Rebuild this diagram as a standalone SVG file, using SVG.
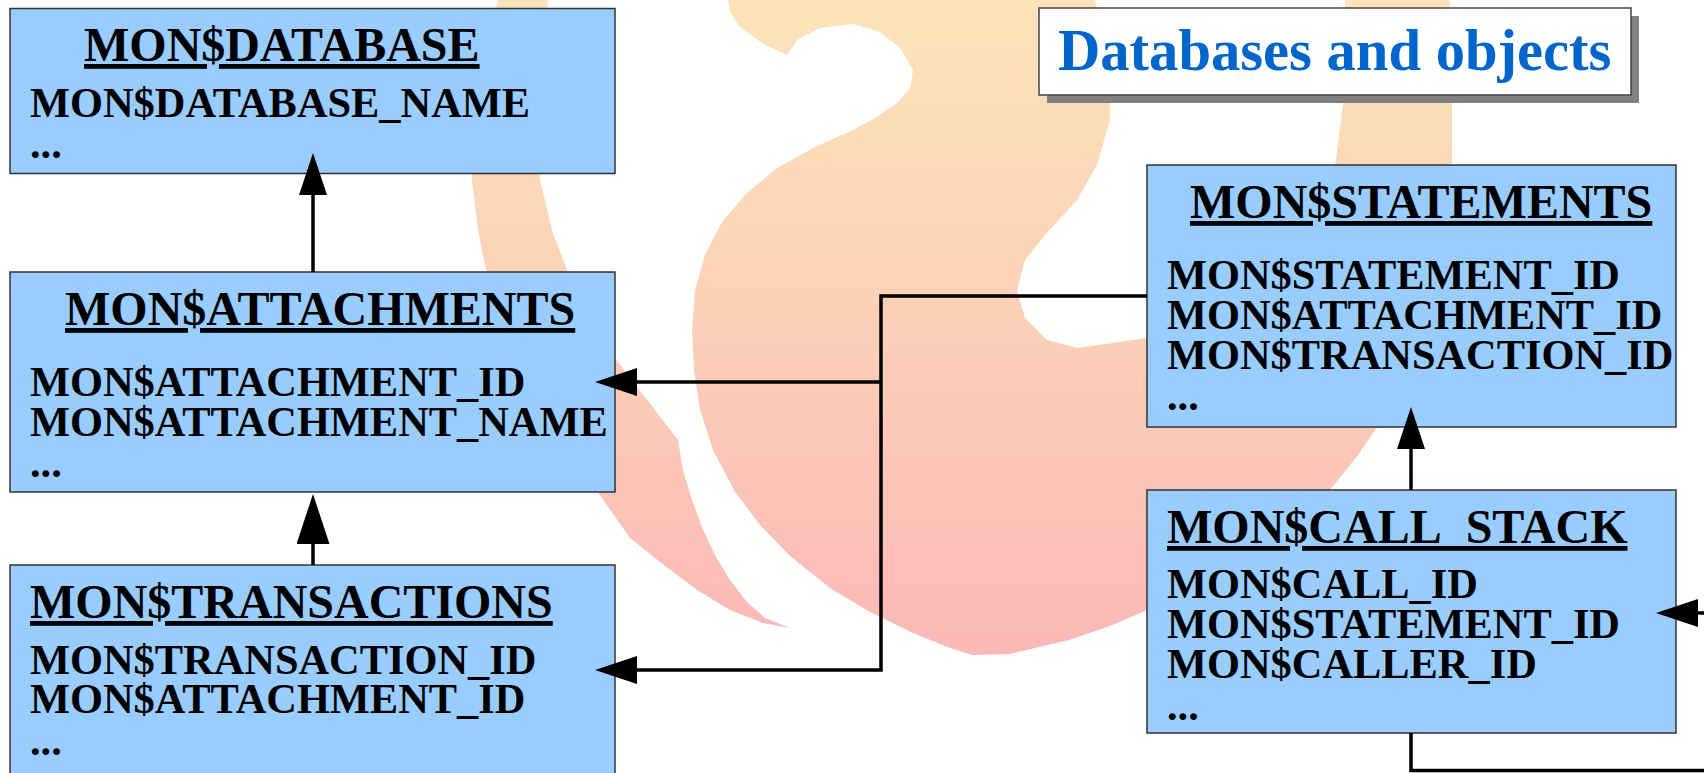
<svg xmlns="http://www.w3.org/2000/svg" width="1704" height="773" viewBox="0 0 1704 773">
<defs>
<linearGradient id="flame" x1="0" y1="0" x2="0" y2="660" gradientUnits="userSpaceOnUse">
<stop offset="0" stop-color="#FDE4BA"/>
<stop offset="0.5" stop-color="#FBCFB7"/>
<stop offset="1" stop-color="#FBB8B8"/>
</linearGradient>
<marker id="ah" markerUnits="userSpaceOnUse" markerWidth="42" markerHeight="28" refX="0" refY="14" orient="auto" viewBox="0 0 42 28"><path d="M0,0 L42,14 L0,28 Z" fill="#000"/></marker>
<marker id="ahL" markerUnits="userSpaceOnUse" markerWidth="50" markerHeight="33" refX="0" refY="16.5" orient="auto" viewBox="0 0 50 33"><path d="M0,0 L50,16.5 L0,33 Z" fill="#000"/></marker>
</defs>
<style>
.box{fill:#99CCFF;stroke:#333333;stroke-width:1.5}
.t{font-family:"Liberation Serif","Times New Roman",serif;font-weight:bold;fill:#000000}
.h{font-size:48px;text-decoration:underline}
.f{font-size:42.4px}
.conn{fill:none;stroke:#000000;stroke-width:3.5}
.wm{fill:url(#flame);stroke:none}
</style>
<rect x="0" y="0" width="1704" height="773" fill="#FFFFFF"/>
<g id="watermark">
<path class="wm" d="M498,0 L548,0 L541,60 L538,120 L540,180 L552,230 L567,270 L590,315 L615,358 L678,440 L683,470 L692,500 L703,530 L716,557 L730,580 L747,602 L765,618 L790,628 L763,623 L730,610 L697,590 L660,562 L630,538 L597,491 L560,440 L530,390 L505,330 L488,280 L478,230 L472,180 L473,120 L482,60 Z"/>
<path class="wm" d="M728,0 L730,12 L740,27 L762,43 L787,55 L797,40 L820,28 L853,24 L880,32 L900,48 L913,70 L910,88 L897,103 L875,118 L853,130 L815,147 L777,168 L745,195 L722,222 L705,255 L695,290 L692,330 L694,370 L700,410 L713,450 L735,492 L760,525 L790,556 L830,588 L870,612 L913,633 L950,648 L972,655 L1010,654 L1069,640 L1110,626 L1147,610 L1200,584 L1250,552 L1295,518 L1330,490 L1358,455 L1380,423 L1405,380 L1425,330 L1440,280 L1449,230 L1452,180 L1452,100 L1450,0 L1345,0 L1345,50 L1343,103 L1336,160 L1322,225 L1300,280 L1265,318 L1215,334 L1147,338 L1077,348 L1047,340 L1025,318 L1017,290 L1025,260 L1045,235 L1077,200 L1097,165 L1110,120 L1110,60 L1095,0 Z"/>
</g>
<g id="title-box">
<rect x="1047" y="16" width="592" height="87" fill="#808080"/>
<rect x="1039" y="8" width="592" height="87" fill="#FFFFFF" stroke="#444444" stroke-width="1.5"/>
<text x="1058" y="70" font-family="'Liberation Serif','Times New Roman',serif" font-weight="bold" font-size="58.6" fill="#0066CC">Databases and objects</text>
</g>
<g id="node-database">
<rect class="box" x="10" y="8.5" width="605" height="165"/>
<text class="t h" x="84" y="61">MON$DATABASE</text>
<text class="t f" x="30" y="117">MON$DATABASE_NAME</text>
<text class="t f" x="30" y="158">...</text>
</g>
<g id="node-attachments">
<rect class="box" x="10" y="272" width="605" height="220"/>
<text class="t h" x="65" y="325">MON$ATTACHMENTS</text>
<text class="t f" x="30" y="396">MON$ATTACHMENT_ID</text>
<text class="t f" x="30" y="436">MON$ATTACHMENT_NAME</text>
<text class="t f" x="30" y="477">...</text>
</g>
<g id="node-transactions">
<rect class="box" x="10" y="565" width="605" height="230"/>
<text class="t h" x="30" y="618">MON$TRANSACTIONS</text>
<text class="t f" x="30" y="674">MON$TRANSACTION_ID</text>
<text class="t f" x="30" y="713">MON$ATTACHMENT_ID</text>
<text class="t f" x="30" y="755">...</text>
</g>
<g id="node-statements">
<rect class="box" x="1147" y="165" width="529" height="262"/>
<text class="t h" x="1190" y="218">MON$STATEMENTS</text>
<text class="t f" x="1167" y="289">MON$STATEMENT_ID</text>
<text class="t f" x="1167" y="329">MON$ATTACHMENT_ID</text>
<text class="t f" x="1167" y="369">MON$TRANSACTION_ID</text>
<text class="t f" x="1167" y="410">...</text>
</g>
<g id="node-call-stack">
<rect class="box" x="1147" y="490" width="529" height="243"/>
<text class="t h" x="1167" y="543">MON$CALL_STACK</text>
<text class="t f" x="1167" y="598">MON$CALL_ID</text>
<text class="t f" x="1167" y="638">MON$STATEMENT_ID</text>
<text class="t f" x="1167" y="678">MON$CALLER_ID</text>
<text class="t f" x="1167" y="720">...</text>
</g>
<g id="connectors">
<path class="conn" d="M313,272 V195" marker-end="url(#ah)"/>
<path class="conn" d="M313,565 V544" marker-end="url(#ahL)"/>
<path class="conn" d="M1147,296 H881 V670 H637" marker-end="url(#ah)"/>
<path class="conn" d="M881,382 H637" marker-end="url(#ah)"/>
<path class="conn" d="M1411,490 V449" marker-end="url(#ah)"/>
<path class="conn" d="M1411,733 V770.5 H1720"/>
<path class="conn" d="M1730,613 H1698" marker-end="url(#ah)"/>
</g>
</svg>
